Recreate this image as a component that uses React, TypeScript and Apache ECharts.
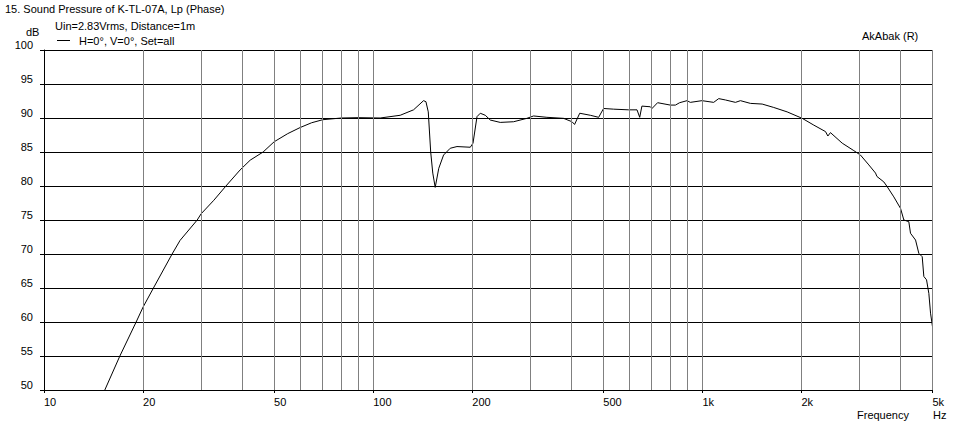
import React, { useEffect, useRef } from "react";
import * as echarts from "echarts";

const freqHz = [
  15.3, 17.0, 19.05, 20, 21.5, 24.5, 25.9, 29.2, 30.0, 32.8, 35.7, 39.4, 42.3, 46.3, 50, 55, 60, 65, 70.3, 80, 90,
  105, 120.8, 132.6, 142.2, 144.6, 147.0, 149.5, 151.7, 154.3, 158.2, 163.6, 171.4,
  179.7, 197.2, 201, 206.7, 211.5, 219, 226.8, 243.2, 267, 293, 307, 337, 378.5,
  401.8, 409, 424, 456.6, 484, 501, 537.6, 597, 633, 645, 655, 695, 703, 731, 799,
  828, 853, 898, 919, 997, 1082, 1121, 1175, 1260, 1305, 1399, 1519, 1647, 1809,
  2010, 2180, 2366, 2405, 2449, 2659, 2884, 3021, 3203, 3357, 3390, 3557, 3642,
  3815, 3999, 4092, 4237, 4287, 4441, 4544, 4653, 4706, 4796, 4874, 4932, 5000,
];
const splDb = [
  50.0, 55.0, 60.0, 62.2, 65.0, 70.0, 72.0, 75.0, 75.9, 77.9, 80.0, 82.35, 83.8, 85.0, 86.5, 87.7, 88.6, 89.3, 89.75, 90.0, 90.05,
  90.0, 90.4, 91.2, 92.55, 92.4, 90.9, 85.0, 81.9, 79.8, 82.6, 84.55, 85.55,
  85.8, 85.7, 86.3, 90.2, 90.7, 90.4, 89.7, 89.35, 89.45, 89.95, 90.3, 90.1, 89.95,
  89.45, 89.05, 90.7, 90.4, 90.1, 91.4, 91.3, 91.2, 91.2, 90.1, 91.75, 91.65, 91.4, 92.25, 91.9,
  91.9, 92.25, 92.55, 92.3, 92.55, 92.3, 92.85, 92.65, 92.3, 92.55, 92.15, 92.05, 91.55, 90.9,
  89.95, 88.95, 88.0, 87.35, 87.85, 86.3, 85.2, 84.55, 83.1, 81.9, 81.4, 80.6, 79.9,
  78.4, 76.7, 75.0, 74.75, 73.05, 72.05, 70.1, 69.6, 66.7, 66.2, 64.2, 61.3, 59.3,
];

const xLabelValues = [10, 20, 50, 100, 200, 500, 1000, 2000, 5000];
const xGridValues = [
  20, 30, 40, 50, 60, 70, 80, 90, 100, 200, 300, 400, 500, 600, 700, 800, 900,
  1000, 2000, 3000, 4000, 5000,
];

const titleText = "15. Sound Pressure of K-TL-07A, Lp (Phase)";
const subText = "Uin=2.83Vrms, Distance=1m";
const seriesName = "H=0°, V=0°, Set=all";
const yUnit = "dB";
const brand = "AkAbak (R)";
const xName = "Frequency";
const xUnit = "Hz";

const FONT = "Liberation Sans";

export default function App() {
  const ref = useRef<HTMLDivElement>(null);
  useEffect(() => {
    document.body.style.margin = "0";
    const chart = echarts.init(ref.current!, null, { renderer: "svg" });
    const txt = (text: string, left: number, top: number) => ({
      text,
      left,
      top,
      padding: 0,
      textStyle: { fontFamily: FONT, fontSize: 11, fontWeight: "normal", color: "#000" },
    });
    chart.setOption({
      animation: false,
      backgroundColor: "#fff",
      title: [
        txt(titleText, 5, 3),
        txt(subText, 55, 20),
        txt(yUnit, 26, 26),
        txt(brand, 862, 30),
        txt(xName, 857, 409),
        txt(xUnit, 933, 409),
      ],
      legend: {
        left: 57,
        top: 35,
        padding: 0,
        itemWidth: 13,
        itemHeight: 1,
        itemGap: 5,
        data: [{ name: seriesName, icon: "rect" }],
        textStyle: { fontFamily: FONT, fontSize: 11, color: "#000", padding: [0, 0, 0, 4] },
      },
      grid: { left: 44, right: 26.5, top: 50, bottom: 37, containLabel: false },
      xAxis: {
        type: "log",
        logBase: 10,
        min: 10,
        max: 5000,
        axisLine: { show: true, lineStyle: { color: "#000", width: 1 } },
        axisTick: {
          show: true,
          length: 3,
          inside: false,
          customValues: xLabelValues,
          lineStyle: { color: "#000" },
        },
        axisLabel: {
          customValues: xLabelValues,
          align: "left",
          margin: 6,
          fontFamily: FONT,
          fontSize: 11,
          color: "#000",
          formatter: (v: number) => (v >= 1000 ? v / 1000 + "k" : String(v)),
        },
        splitLine: { show: false },
        minorTick: { show: false },
        minorSplitLine: { show: false },
      },
      yAxis: {
        type: "value",
        min: 50,
        max: 100,
        interval: 5,
        axisLine: { show: true, lineStyle: { color: "#000", width: 1 } },
        axisTick: { show: true, length: 4, inside: false, lineStyle: { color: "#000" } },
        axisLabel: {
          margin: 11,
          verticalAlign: "bottom",
          lineHeight: 10,
          fontFamily: FONT,
          fontSize: 11,
          color: "#000",
        },
        splitLine: { show: true, lineStyle: { color: "#000", width: 1 } },
      },
      series: [
        {
          name: "grid",
          type: "line",
          data: [],
          z: 1,
          silent: true,
          markLine: {
            silent: true,
            symbol: "none",
            animation: false,
            label: { show: false },
            lineStyle: { color: "#808080", width: 1, type: "solid" },
            data: xGridValues.map((v) => ({ xAxis: v })),
          },
        },
        {
          name: seriesName,
          type: "line",
          z: 3,
          symbol: "none",
          showSymbol: false,
          lineStyle: { color: "#000", width: 1 },
          itemStyle: { color: "#000" },
          data: freqHz.map((f, i) => [f, splDb[i]]),
        },
      ],
    });
    return () => chart.dispose();
  }, []);
  return (
    <div
      ref={ref}
      style={{ width: 959, height: 427, position: "absolute", left: 0, top: 0 }}
    />
  );
}
